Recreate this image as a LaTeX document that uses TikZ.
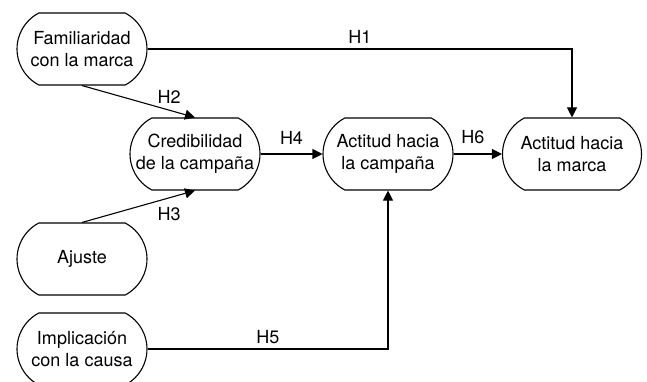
\documentclass[tikz,border=0pt]{standalone}
\usepackage{fontspec}
\setmainfont{TeX Gyre Heros}
\usetikzlibrary{arrows.meta,shapes.misc}

\begin{document}
\begin{tikzpicture}[x=1pt,y=-1pt,line width=1.1pt,
    var/.style={draw, rounded rectangle, rounded rectangle arc length=125, minimum width=130pt, minimum height=72pt, inner sep=0pt, align=center, font=\fontsize{18}{22}\selectfont},
    hyp/.style={-{Triangle[length=10pt,width=10pt]}},
    lbl/.style={inner sep=0pt, font=\fontsize{18}{22}\selectfont}]
    \useasboundingbox (0,0) rectangle (647,382);
    \node[var] (fam) at (82, 49) {Familiaridad\\con la marca};
    \node[var] (ajuste) at (82, 259) {Ajuste};
    \node[var] (impl) at (82, 349) {Implicación\\con la causa};
    \node[var] (cred) at (195, 154) {Credibilidad\\de la campaña};
    \node[var] (acamp) at (388, 154) {Actitud hacia\\la campaña};
    \node[var, minimum width=139pt] (amarca) at (572, 154) {Actitud hacia\\la marca};
    \draw [hyp] (fam.east) -| node[lbl, pos=0.25, above=5pt] {H1} (amarca.north);
    \draw [hyp] (fam.south) -- node[lbl, pos=0.77, above=6pt] {H2} (cred.north);
    \draw [hyp] (ajuste.north) -- node[lbl, pos=0.77, below=9pt] {H3} (cred.south);
    \draw [hyp] (cred.east) -- node[lbl, above=9pt] {H4} (acamp.west);
    \draw [hyp] (impl.east) -| node[lbl, pos=0.25, above=5pt] {H5} (acamp.south);
    \draw [hyp] (acamp.east) -- node[lbl, pos=0.4, above=10pt] {H6} (amarca.west);
\end{tikzpicture}
\end{document}
